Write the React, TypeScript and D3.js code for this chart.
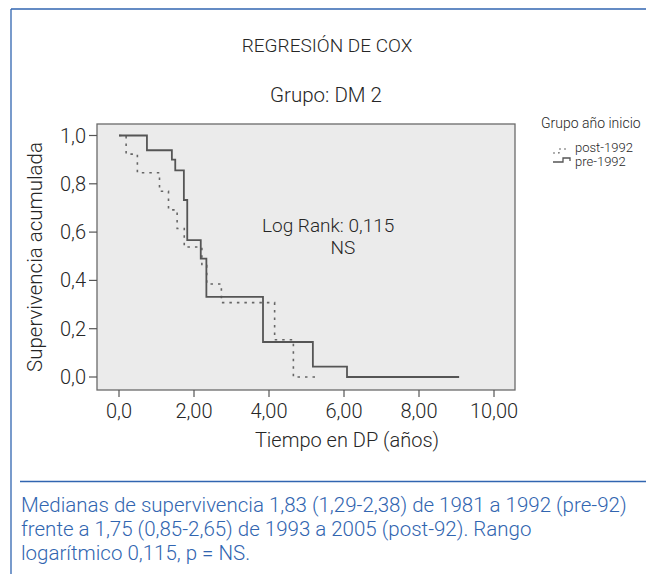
import React from "react";
import * as d3 from "d3";

// ---- data ----
const preTimes = [0, 0.745, 1.41, 1.5, 1.73, 1.82, 2.18, 2.33, 3.84, 5.17, 6.08, 9.07];
const preSurv = [1, 0.939, 0.9, 0.856, 0.733, 0.567, 0.49, 0.332, 0.145, 0.043, 0, 0];
const postTimes = [0, 0.19, 0.49, 1.08, 1.32, 1.55, 1.74, 2.21, 2.34, 2.73, 4.15, 4.65, 5.35];
const postSurv = [1, 0.923, 0.846, 0.769, 0.692, 0.615, 0.538, 0.462, 0.385, 0.308, 0.154, 0, 0];
const xTicks = [0, 2, 4, 6, 8, 10];
const xTickLabels = ["0,0", "2,00", "4,00", "6,00", "8,00", "10,00"];
const yTicks = [0, 0.2, 0.4, 0.6, 0.8, 1];
const yTickLabels = ["0,0", "0,2", "0,4", "0,6", "0,8", "1,0"];
const seriesNames = ["post-1992", "pre-1992"];
const legendTitle = "Grupo año inicio";
const title = "REGRESIÓN DE COX";
const subtitle = "Grupo: DM 2";
const xTitle = "Tiempo en DP (años)";
const yTitle = "Supervivencia acumulada";
const annotation = ["Log Rank: 0,115", "NS"];
const captionLines = [
  "Medianas de supervivencia 1,83 (1,29-2,38) de 1981 a 1992 (pre-92)",
  "frente a 1,75 (0,85-2,65) de 1993 a 2005 (post-92). Rango",
  "logarítmico 0,115, p = NS.",
];

const FONT = "Roboto, 'Open Sans', 'Noto Sans', sans-serif";
const BLUE = "#3165b0";
const INK = "#262626";

export default function App() {
  const x = d3.scaleLinear().domain([0, 10]).range([119, 494]);
  const y = d3.scaleLinear().domain([0, 1]).range([377, 135.5]);
  const frame = { x0: 97, x1: 515, y0: 124, y1: 390 };

  const line = d3
    .line<[number, number]>()
    .x((d) => x(d[0]))
    .y((d) => y(d[1]))
    .curve(d3.curveStepAfter);

  const prePts = preTimes.map((t, i) => [t, preSurv[i]] as [number, number]);
  const postPts = postTimes.map((t, i) => [t, postSurv[i]] as [number, number]);

  return (
    <svg
      width={652}
      height={574}
      style={{ position: "absolute", left: 0, top: 0, background: "#fff" }}
      fontFamily={FONT}
      fontWeight={300}
    >
      {/* outer blue frame */}
      <line x1={11} y1={9} x2={646} y2={9} stroke={BLUE} strokeWidth={1.3} />
      <line x1={11} y1={9} x2={11} y2={574} stroke={BLUE} strokeWidth={1.3} />
      <line x1={20} y1={481.5} x2={646} y2={481.5} stroke={BLUE} strokeWidth={1.3} />

      {/* titles */}
      <text x={327} y={52} textAnchor="middle" fontSize={19} fill={INK}>
        {title}
      </text>
      <text x={326} y={102} textAnchor="middle" fontSize={20.5} fill={INK}>
        {subtitle}
      </text>

      {/* plot area */}
      <rect
        x={frame.x0}
        y={frame.y0}
        width={frame.x1 - frame.x0}
        height={frame.y1 - frame.y0}
        fill="#ebebeb"
        stroke="#6a6a6a"
        strokeWidth={1.3}
      />

      {/* y axis */}
      {yTicks.map((v, i) => (
        <g key={"y" + i}>
          <line x1={89} x2={frame.x0} y1={y(v)} y2={y(v)} stroke="#555" strokeWidth={1.2} />
          <text x={86} y={y(v)} dy="0.35em" textAnchor="end" fontSize={20} fill={INK}>
            {yTickLabels[i]}
          </text>
        </g>
      ))}
      <text
        transform={`translate(42,257) rotate(-90)`}
        textAnchor="middle"
        fontSize={20.5}
        fill={INK}
      >
        {yTitle}
      </text>

      {/* x axis */}
      {xTicks.map((v, i) => (
        <g key={"x" + i}>
          <line x1={x(v)} x2={x(v)} y1={frame.y1} y2={397} stroke="#555" strokeWidth={1.2} />
          <text x={x(v)} y={418} textAnchor="middle" fontSize={20} fill={INK}>
            {xTickLabels[i]}
          </text>
        </g>
      ))}
      <text x={347} y={447} textAnchor="middle" fontSize={20} fill={INK}>
        {xTitle}
      </text>

      {/* curves */}
      <path d={line(postPts) || ""} fill="none" stroke="#666" strokeWidth={1.6} strokeDasharray="2.5,5" />
      <path d={line(prePts) || ""} fill="none" stroke="#555" strokeWidth={1.8} />

      {/* annotation */}
      <text x={262} y={232} fontSize={19} fill={INK}>
        {annotation[0]}
      </text>
      <text x={343} y={254} textAnchor="middle" fontSize={19} fill={INK}>
        {annotation[1]}
      </text>

      {/* legend */}
      <text x={541} y={128} fontSize={14} fill={INK}>
        {legendTitle}
      </text>
      <path d="M553,153 H559 V149 H569" fill="none" stroke="#666" strokeWidth={1.2} strokeDasharray="2,3" />
      <text x={575} y={151.5} fontSize={13} fill={INK}>
        {seriesNames[0]}
      </text>
      <path d="M553,162 H563 V158 H570 V161" fill="none" stroke="#555" strokeWidth={1.3} />
      <text x={575} y={166} fontSize={13} fill={INK}>
        {seriesNames[1]}
      </text>

      {/* caption */}
      {captionLines.map((l, i) => (
        <text key={"c" + i} x={21} y={512 + i * 24} fontSize={20.5} fill={BLUE}>
          {l}
        </text>
      ))}
    </svg>
  );
}
